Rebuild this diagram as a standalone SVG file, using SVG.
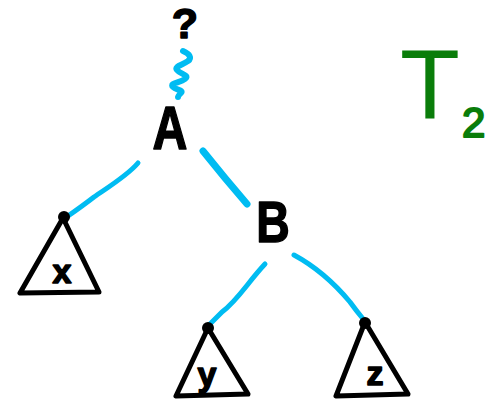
<svg xmlns="http://www.w3.org/2000/svg" width="495" height="406" viewBox="0 0 495 406">
  <style>
    .edge { fill: none; stroke: #00bcf2; stroke-width: 5; stroke-linecap: round; stroke-linejoin: round; }
    .tri { fill: none; stroke: #000; stroke-width: 5; stroke-linejoin: round; stroke-linecap: round; }
    .dot { fill: #000; }
    .lbl { font-family: "Liberation Sans", Arial, sans-serif; font-weight: bold; fill: #000; text-anchor: middle; stroke: #000; stroke-width: 1.5; stroke-linejoin: round; }
    .title { font-family: "Liberation Sans", Arial, sans-serif; fill: #0a7d0a; stroke: #0a7d0a; stroke-linejoin: round; }
  </style>
  <rect width="495" height="406" fill="#fff"/>

  <!-- connectors -->
  <g id="connectors">
    <path class="edge" style="stroke-width:6" d="M183,51 C190,54 192,58 188,61 C183,65 174,66 177,70 C180,74 190,75 185,79 C180,83 169,83 173,87 C176,90 184,90 181,93 C179,95 178,96 178,97"/>
    <path class="edge" d="M138,163 C128,175 110,186 94,197 C85,204 78,209 68,216"/>
    <path class="edge" style="stroke-width:7" d="M203,151 C215,166 228,182 247,204"/>
    <path class="edge" d="M265,264 C248,282 238,300 222,312 C216,318 212,322 208,326"/>
    <path class="edge" d="M294,255 C318,268 335,284 350,302 C355,309 359,314 364,320"/>
  </g>

  <!-- unknown parent -->
  <g id="parent">
    <text class="lbl" x="185" y="38" font-size="43">?</text>
  </g>

  <!-- node A -->
  <g id="node-A">
    <text class="lbl" x="170" y="149" font-size="62" transform="translate(170 0) scale(0.78 1) translate(-170 0)">A</text>
  </g>

  <!-- node B -->
  <g id="node-B">
    <text class="lbl" x="273" y="242" font-size="58" transform="translate(273 0) scale(0.8 1) translate(-273 0)">B</text>
  </g>

  <!-- subtree x -->
  <g id="subtree-x">
    <path class="tri" d="M63,218 L20,293 L99,292 Z"/>
    <circle class="dot" cx="64" cy="217" r="6"/>
    <text class="lbl" x="62" y="283" font-size="34">x</text>
  </g>

  <!-- subtree y -->
  <g id="subtree-y">
    <path class="tri" d="M208,328 L176,396 L248,394 Z"/>
    <circle class="dot" cx="208" cy="328" r="6"/>
    <text class="lbl" x="207" y="386" font-size="34">y</text>
  </g>

  <!-- subtree z -->
  <g id="subtree-z">
    <path class="tri" d="M365,322 L336,396 L408,394 Z"/>
    <circle class="dot" cx="365" cy="323" r="6"/>
    <text class="lbl" x="375" y="385" font-size="34">z</text>
  </g>

  <!-- tree name -->
  <g id="title">
    <text class="title" x="400" y="118" font-size="98" stroke-width="0">T</text>
    <text class="title" x="462" y="137" font-size="42" stroke-width="2">2</text>
  </g>
</svg>
